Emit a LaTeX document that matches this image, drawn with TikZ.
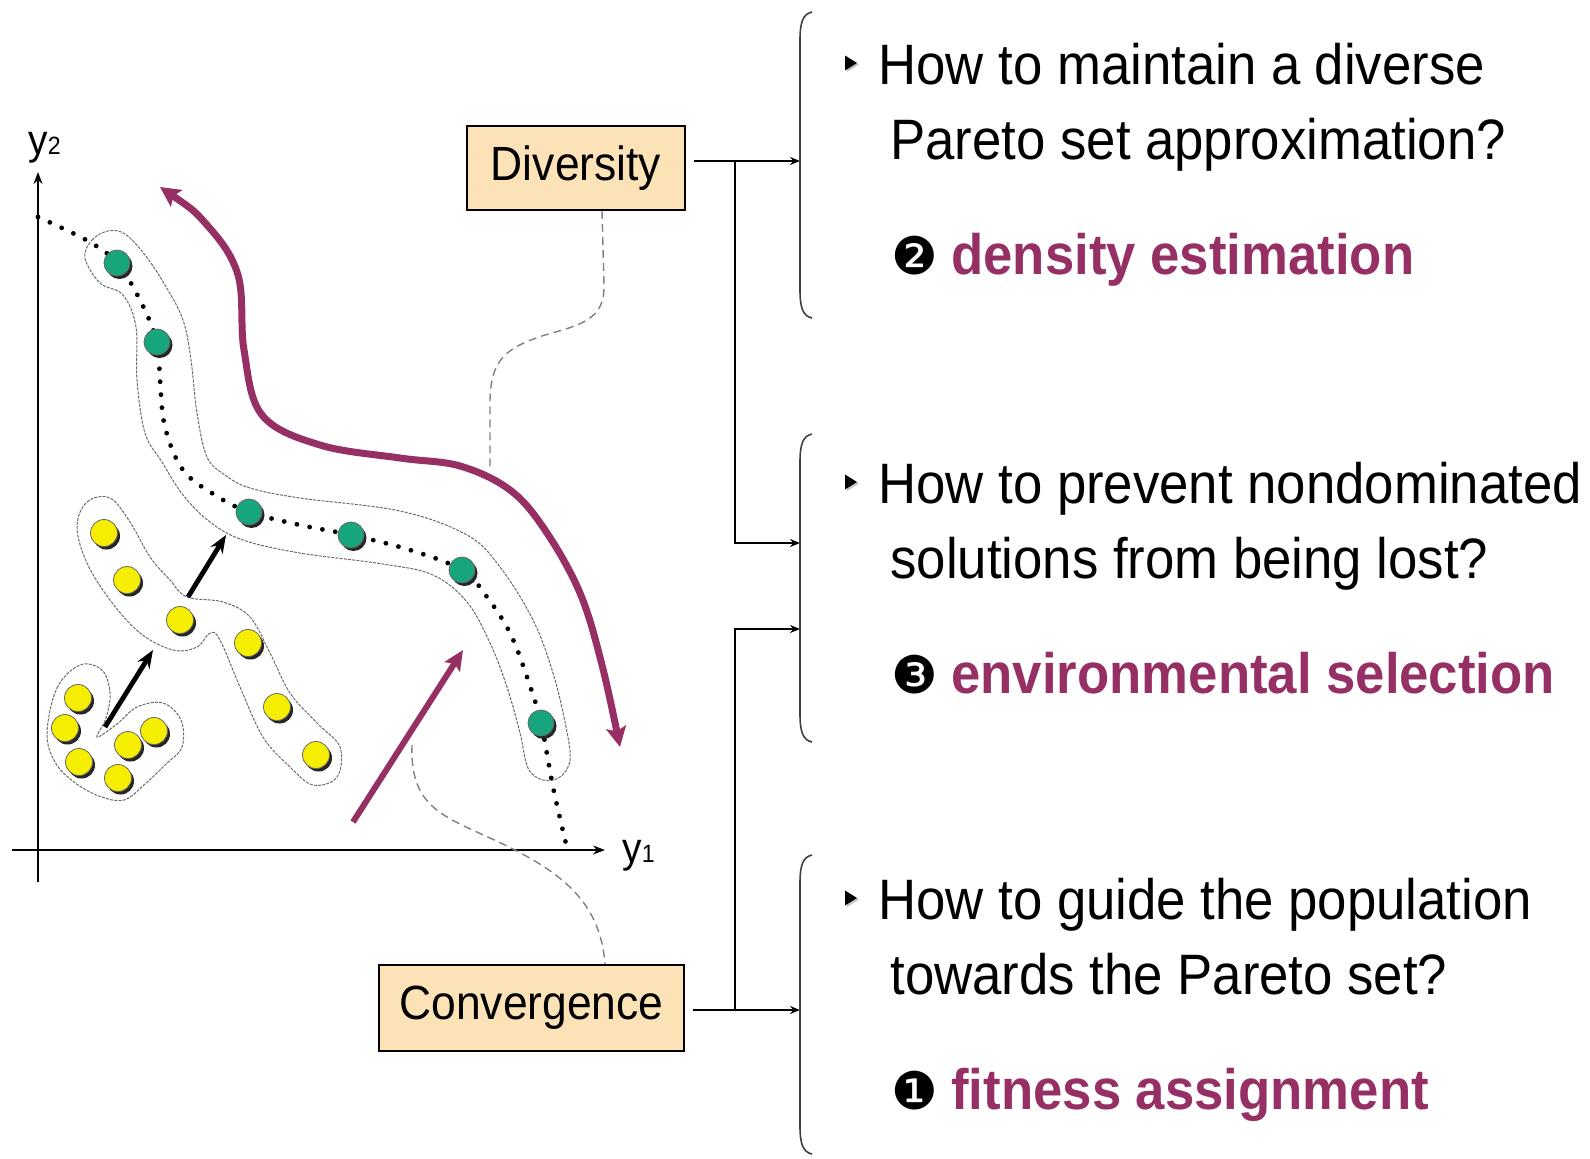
\documentclass[tikz,border=0pt]{standalone}
\usepackage{fontspec}
\setmainfont{Liberation Sans}[FakeStretch=0.925]
\newfontfamily\dingfont{DejaVu Sans}
\usetikzlibrary{arrows.meta}

\definecolor{boxfill}{RGB}{252,226,183}
\definecolor{plum}{RGB}{150,48,100}
\definecolor{front}{RGB}{22,165,125}
\definecolor{pop}{RGB}{246,238,0}

\begin{document}
\begin{tikzpicture}[x=0.5pt, y=-0.5pt,
    tag/.style={draw=black, line width=1pt, fill=boxfill, inner sep=0pt,
        font=\fontsize{24}{28}\selectfont},
    question/.style={anchor=base west, inner sep=0pt, font=\fontsize{28.5}{34}\selectfont},
    badge/.style={anchor=base west, inner sep=0pt, font=\dingfont\fontsize{26}{30}\selectfont},
    method/.style={anchor=base west, inner sep=0pt, text=plum,
        font=\fontsize{28.5}{34}\selectfont\bfseries},
    axlabel/.style={anchor=base west, inner sep=0pt, font=\fontsize{21}{24}\selectfont},
    axis/.style={line width=0.7pt, -{Stealth[length=6pt,width=4.5pt]}},
    link/.style={line width=0.8pt, -{Stealth[length=5pt,width=4pt]}},
    guide/.style={gray, line width=0.7pt, dash pattern=on 4pt off 2.5pt},
    rim/.style={gray!85!black, line width=0.5pt, dash pattern=on 1.5pt off 0.6pt, fill=white},
    trend/.style={plum, line width=3.5pt, {Stealth[length=10pt,width=10pt,inset=2pt]}-{Stealth[length=10pt,width=10pt,inset=2pt]}},
    push/.style={plum, line width=3pt, -{Stealth[length=10pt,width=9pt,inset=2pt]}},
    move/.style={line width=2.4pt, -{Stealth[length=9pt,width=7pt]}},
    brace/.style={black!75, line width=0.8pt}]
\useasboundingbox (0,0) rectangle (1590,1158);

% The axes
\draw[axis] (38,882) -- (38,172);
\draw[axis] (12,850) -- (605,850);
\node[axlabel] (ly2) at (28,154) {y{\fontsize{12.5}{14}\selectfont 2}};
\node[axlabel] (ly1) at (622,862) {y{\fontsize{12.5}{14}\selectfont 1}};

% outlines
\draw[rim] plot[smooth cycle, tension=0.6] coordinates {(85,258) (92,240) (108,231) (125,234)
    (145,255) (165,285) (183,320) (191,360) (197,413) (207,457) (225,475) (250,488) (300,498)
    (400,511) (467,535) (500,567) (533,620) (553,673) (566,727) (570,760) (560,777) (543,780)
    (528,768) (520,733) (507,687) (490,643) (467,602) (433,575) (383,564) (300,553) (243,540)
    (210,522) (183,495) (162,462) (145,433) (137,380) (136,327) (123,295) (100,283)};
\draw[rim] plot[smooth cycle, tension=0.6] coordinates {(77,527) (87,502) (110,498) (130,522)
    (150,557) (170,580) (187,597) (223,602) (250,617) (270,653) (290,693) (317,723) (340,747)
    (337,777) (313,785) (290,767) (263,737) (240,687) (220,640) (210,633) (197,647) (173,650)
    (140,633) (110,600) (87,563)};
\draw[rim] plot[smooth cycle, tension=0.6] coordinates {(47,733) (57,688) (80,665) (102,670)
    (110,693) (106,718) (97,737) (117,724) (137,707) (163,703) (181,720) (182,747) (166,764)
    (145,784) (124,800) (99,796) (74,782) (55,762)};

% Pareto front
\draw[line width=2.4pt, line cap=round, dash pattern=on 0pt off 6.5pt]
    plot[smooth, tension=0.6] coordinates {(38,217) (88,241) (117,263) (140,300) (157,342)
    (160,380) (165,427) (183,470) (215,495) (249,512) (300,525) (351,535) (410,550) (462,570)
    (487,597) (510,633) (527,677) (541,723) (553,787) (567,848)};

% arrows
\draw[trend] plot[smooth, tension=0.6] coordinates {(160,187) (207,225) (238,275) (244,350)
    (262,415) (320,445) (400,458) (460,466) (510,490) (545,530) (580,593) (602,665) (620,747)};
\draw[push] (353,822) -- (463,650);
\draw[move] (105,727) -- (153,650);
\draw[move] (188,597) -- (226,535);

% solutions
\foreach \x/\y in {117/263, 157/342, 249/512, 351/535, 462/570, 541/723} {
    \fill[black!85] (\x+2.5,\y+3) circle (13);
    \filldraw[fill=front, draw=black!60, line width=0.4pt] (\x,\y) circle (13);
}
\foreach \x/\y in {78/698, 65/728, 79/762, 118/778, 128/745, 154/731,
                   104/533, 127/580, 180/620, 248/643, 277/707, 316/755} {
    \fill[black!85] (\x+2.5,\y+3) circle (13.5);
    \filldraw[fill=pop, draw=black!60, line width=0.4pt] (\x,\y) circle (13.5);
}

% boxes
\node[tag, minimum width=109pt, minimum height=42pt] (div) at (576,168) {Diversity};
\node[tag, minimum width=152.5pt, minimum height=43pt] (conv) at (531.5,1008) {Convergence};

\coordinate (dv) at (490,467);
\coordinate (cv) at (412,745);
\draw[guide] ([xshift=13pt]div.south) -- (604,285) .. controls (605,320) and (580,325) .. (545,335)
    .. controls (505,348) and (491,360) .. (490,400) -- (dv);
\draw[guide] (cv) .. controls (410,805) and (440,815) .. (490,838)
    .. controls (560,870) and (600,900) .. ([xshift=36.75pt]conv.north);

% connectors
\coordinate (t1) at (800,161);
\coordinate (t2) at (800,543);
\coordinate (t3) at (800,629);
\coordinate (t4) at (800,1010);
\coordinate (j1) at (735,161);
\coordinate (j2) at (735,1010);
\draw[link, shorten <=4pt] (div.east |- t1) -- (t1);
\draw[link] (j1) |- (t2);
\draw[link, shorten <=4pt] (conv.east |- t4) -- (t4);
\draw[link] (j2) |- (t3);

% brackets
\foreach \t/\b in {12/318, 434/742, 855/1154}
    \draw[brace] (812,\t) .. controls (803,{\t+2}) and (800,{\t+10}) .. (800,{\t+28})
        -- (800,{\b-28}) .. controls (800,{\b-10}) and (803,{\b-2}) .. (812,\b);

% bullets
\foreach \y in {63,482,898} {
    \fill[gray!45] (847,{\y-6}) -- (859,{\y+1.5}) -- (847,{\y+9}) -- cycle;
    \fill (845,{\y-7.5}) -- (857,\y) -- (845,{\y+7.5}) -- cycle;
}

% questions
\node[question] (q1a) at (878,84) {How to maintain a diverse};
\node[question] (q1b) at (890,159) {Pareto set approximation?};
\node[badge] (n2) at (891,274) {❷};
\node[method] (m2) at (951,274) {density estimation};

\node[question] (q2a) at (878,503) {How to prevent nondominated};
\node[question] (q2b) at (890,578) {solutions from being lost?};
\node[badge] (n3) at (891,693) {❸};
\node[method] (m3) at (951,693) {environmental selection};

\node[question] (q3a) at (878,919) {How to guide the population};
\node[question] (q3b) at (890,994) {towards the Pareto set?};
\node[badge] (n1) at (891,1109) {❶};
\node[method] (m1) at (951,1109) {fitness assignment};
\end{tikzpicture}
\end{document}
